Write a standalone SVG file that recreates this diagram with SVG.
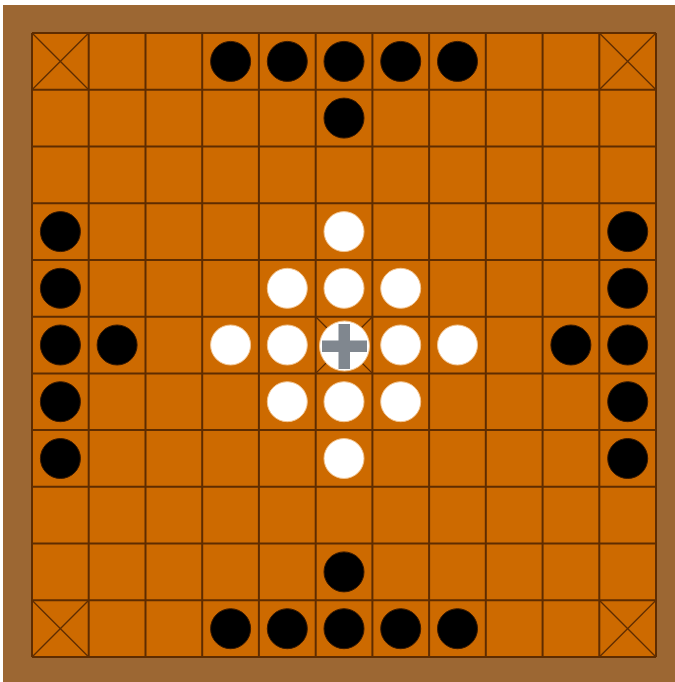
<svg xmlns="http://www.w3.org/2000/svg" width="675" height="682" viewBox="0 0 675 682">
<style>
.bg{fill:#9c6733}
.board{fill:#cd6a00}
.grid line{stroke:#5e2c00;stroke-width:2}
.diag line{stroke:#5e2c00;stroke-width:1.3}
.b{fill:#000;stroke:#3a1a00;stroke-width:1}
.w{fill:#fff;stroke:#f2c490;stroke-width:1}
</style>
<rect class="bg" x="3" y="5" width="672" height="677"/>
<rect class="board" x="32" y="33" width="624" height="624"/>
<g class="diag">
<line x1="32" y1="33" x2="88.7" y2="89.7"/><line x1="88.7" y1="33" x2="32" y2="89.7"/>
<line x1="599.3" y1="33" x2="656" y2="89.7"/><line x1="656" y1="33" x2="599.3" y2="89.7"/>
<line x1="32" y1="600.3" x2="88.7" y2="657"/><line x1="88.7" y1="600.3" x2="32" y2="657"/>
<line x1="599.3" y1="600.3" x2="656" y2="657"/><line x1="656" y1="600.3" x2="599.3" y2="657"/>
<line x1="315.7" y1="316.7" x2="372.4" y2="373.4"/><line x1="372.4" y1="316.7" x2="315.7" y2="373.4"/>
</g>
<g class="grid">
<line x1="32" y1="33" x2="32" y2="657"/><line x1="88.7" y1="33" x2="88.7" y2="657"/><line x1="145.5" y1="33" x2="145.5" y2="657"/><line x1="202.2" y1="33" x2="202.2" y2="657"/><line x1="258.9" y1="33" x2="258.9" y2="657"/><line x1="315.7" y1="33" x2="315.7" y2="657"/><line x1="372.4" y1="33" x2="372.4" y2="657"/><line x1="429.1" y1="33" x2="429.1" y2="657"/><line x1="485.8" y1="33" x2="485.8" y2="657"/><line x1="542.6" y1="33" x2="542.6" y2="657"/><line x1="599.3" y1="33" x2="599.3" y2="657"/><line x1="656" y1="33" x2="656" y2="657"/>
<line x1="32" y1="33" x2="656" y2="33"/><line x1="32" y1="89.7" x2="656" y2="89.7"/><line x1="32" y1="146.5" x2="656" y2="146.5"/><line x1="32" y1="203.2" x2="656" y2="203.2"/><line x1="32" y1="259.9" x2="656" y2="259.9"/><line x1="32" y1="316.7" x2="656" y2="316.7"/><line x1="32" y1="373.4" x2="656" y2="373.4"/><line x1="32" y1="430.1" x2="656" y2="430.1"/><line x1="32" y1="486.8" x2="656" y2="486.8"/><line x1="32" y1="543.6" x2="656" y2="543.6"/><line x1="32" y1="600.3" x2="656" y2="600.3"/><line x1="32" y1="657" x2="656" y2="657"/>
</g>
<g id="connectors"/>
<g id="black-pieces">
<g id="b-0-3"><circle class="b" cx="230.6" cy="61.4" r="20"/></g>
<g id="b-0-4"><circle class="b" cx="287.3" cy="61.4" r="20"/></g>
<g id="b-0-5"><circle class="b" cx="344" cy="61.4" r="20"/></g>
<g id="b-0-6"><circle class="b" cx="400.7" cy="61.4" r="20"/></g>
<g id="b-0-7"><circle class="b" cx="457.5" cy="61.4" r="20"/></g>
<g id="b-1-5"><circle class="b" cx="344" cy="118.1" r="20"/></g>
<g id="b-3-0"><circle class="b" cx="60.4" cy="231.6" r="20"/></g>
<g id="b-4-0"><circle class="b" cx="60.4" cy="288.3" r="20"/></g>
<g id="b-5-0"><circle class="b" cx="60.4" cy="345" r="20"/></g>
<g id="b-6-0"><circle class="b" cx="60.4" cy="401.7" r="20"/></g>
<g id="b-7-0"><circle class="b" cx="60.4" cy="458.5" r="20"/></g>
<g id="b-5-1"><circle class="b" cx="117.1" cy="345" r="20"/></g>
<g id="b-3-10"><circle class="b" cx="627.7" cy="231.6" r="20"/></g>
<g id="b-4-10"><circle class="b" cx="627.7" cy="288.3" r="20"/></g>
<g id="b-5-10"><circle class="b" cx="627.7" cy="345" r="20"/></g>
<g id="b-6-10"><circle class="b" cx="627.7" cy="401.7" r="20"/></g>
<g id="b-7-10"><circle class="b" cx="627.7" cy="458.5" r="20"/></g>
<g id="b-5-9"><circle class="b" cx="570.9" cy="345" r="20"/></g>
<g id="b-9-5"><circle class="b" cx="344" cy="571.9" r="20"/></g>
<g id="b-10-3"><circle class="b" cx="230.6" cy="628.7" r="20"/></g>
<g id="b-10-4"><circle class="b" cx="287.3" cy="628.7" r="20"/></g>
<g id="b-10-5"><circle class="b" cx="344" cy="628.7" r="20"/></g>
<g id="b-10-6"><circle class="b" cx="400.7" cy="628.7" r="20"/></g>
<g id="b-10-7"><circle class="b" cx="457.5" cy="628.7" r="20"/></g>
</g>
<g id="white-pieces">
<g id="w-3-5"><circle class="w" cx="344" cy="231.6" r="20"/></g>
<g id="w-4-4"><circle class="w" cx="287.3" cy="288.3" r="20"/></g>
<g id="w-4-5"><circle class="w" cx="344" cy="288.3" r="20"/></g>
<g id="w-4-6"><circle class="w" cx="400.7" cy="288.3" r="20"/></g>
<g id="w-5-3"><circle class="w" cx="230.6" cy="345" r="20"/></g>
<g id="w-5-4"><circle class="w" cx="287.3" cy="345" r="20"/></g>
<g id="w-5-6"><circle class="w" cx="400.7" cy="345" r="20"/></g>
<g id="w-5-7"><circle class="w" cx="457.5" cy="345" r="20"/></g>
<g id="w-6-4"><circle class="w" cx="287.3" cy="401.7" r="20"/></g>
<g id="w-6-5"><circle class="w" cx="344" cy="401.7" r="20"/></g>
<g id="w-6-6"><circle class="w" cx="400.7" cy="401.7" r="20"/></g>
<g id="w-7-5"><circle class="w" cx="344" cy="458.5" r="20"/></g>
<g id="king">
<circle class="w" cx="344.5" cy="346" r="25"/>
<rect x="322" y="340.5" width="45" height="11.5" fill="#80878f"/>
<rect x="338.5" y="324" width="11.5" height="45" fill="#80878f"/>
</g>
</g>
</svg>
